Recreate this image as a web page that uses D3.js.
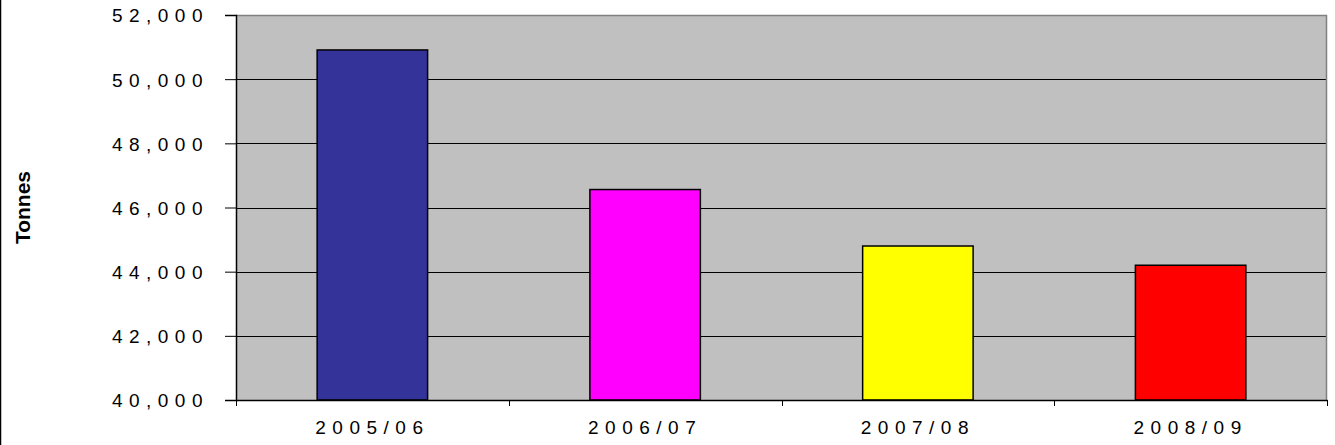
<!DOCTYPE html>
<html>
<head>
<meta charset="utf-8">
<script src="https://cdn.jsdelivr.net/npm/d3@7"></script>
<style>
  body { margin: 0; background: #fff; }
  svg text { font-family: "Liberation Sans", Arial, sans-serif; fill: #000; }
</style>
</head>
<body>
<div id="chart"></div>
<script>
var years = ["2005/06", "2006/07", "2007/08", "2008/09"];
var tonnes = [50910, 46560, 44800, 44200];
var barColors = ["#333399", "#FF00FF", "#FFFF00", "#FF0000"];
var yTicks = [40000, 42000, 44000, 46000, 48000, 50000, 52000];

var cfg = { w: 1335, h: 445, mTop: 15, mRight: 8, mBottom: 45, mLeft: 236 };
var width = cfg.w - cfg.mLeft - cfg.mRight,
    height = cfg.h - cfg.mTop - cfg.mBottom;

var svg = d3.select("#chart").append("svg")
    .attr("width", cfg.w)
    .attr("height", cfg.h);

// outer frame, only the left edge shows
svg.append("line")
    .attr("x1", 0.5).attr("x2", 0.5)
    .attr("y1", 0).attr("y2", cfg.h)
    .attr("stroke", "#000").attr("stroke-width", 1.5);

var g = svg.append("g")
    .attr("transform", "translate(" + cfg.mLeft + "," + cfg.mTop + ")");

var x = d3.scaleBand().domain(years).range([0, width]).padding(0);
var y = d3.scaleLinear().domain([40000, 52000]).range([height, 0]);

g.append("rect")
    .attr("width", width).attr("height", height)
    .attr("fill", "#C0C0C0");

// gridlines
g.selectAll(".grid")
    .data(yTicks.slice(1, -1))
    .enter().append("line")
    .attr("x1", 0).attr("x2", width)
    .attr("y1", function(d) { return Math.round(y(d)) + 0.5; })
    .attr("y2", function(d) { return Math.round(y(d)) + 0.5; })
    .attr("stroke", "#000");

// top / right border
g.append("path")
    .attr("d", "M0,0.5H" + (width - 0.5) + "V" + height)
    .attr("fill", "none").attr("stroke", "#808080").attr("stroke-width", 1.5);

// bars
var barW = x.bandwidth() * 0.405;
g.selectAll(".bar")
    .data(tonnes)
    .enter().append("rect")
    .attr("x", function(d, i) { return x(years[i]) + (x.bandwidth() - barW) / 2; })
    .attr("y", function(d) { return y(d); })
    .attr("width", barW)
    .attr("height", function(d) { return height - y(d); })
    .attr("fill", function(d, i) { return barColors[i]; })
    .attr("stroke", "#000").attr("stroke-width", 1.5);

function lbl(t) {
    t.attr("font-family", null).attr("font-size", null)
        .style("font-size", "19px")
        .style("letter-spacing", "6.5px")
        .style("font-family", "'Liberation Sans', Arial, sans-serif");
}

// y axis
var yAxis = d3.axisLeft(y).tickValues(yTicks).tickSize(11).tickPadding(0)
    .tickFormat(d3.format(","));
g.append("g").call(function(a) {
    a.call(yAxis);
    a.select(".domain").attr("stroke", "#000").attr("stroke-width", 1.5);
    a.selectAll(".tick line").attr("stroke", "#000");
    a.selectAll(".tick text")
        .attr("x", -27)
        .attr("dy", "0.36em")
        .call(lbl);
});

// x axis
var xAxis = d3.axisBottom(x).tickSize(0).tickPadding(0);
g.append("g").attr("transform", "translate(0," + height + ")").call(function(a) {
    a.call(xAxis);
    a.select(".domain").attr("stroke", "#000").attr("stroke-width", 1.5);
    a.selectAll(".tick text")
        .attr("x", 0)
        .attr("y", 34).attr("dy", 0)
        .call(lbl);
});
// band boundary ticks
g.selectAll(".xtick")
    .data(years.concat([null]))
    .enter().append("line")
    .attr("x1", function(d, i) { return Math.round(i * x.bandwidth()) + 0.5; })
    .attr("x2", function(d, i) { return Math.round(i * x.bandwidth()) + 0.5; })
    .attr("y1", height).attr("y2", height + 6)
    .attr("stroke", "#000");

svg.append("text")
    .attr("transform", "translate(30," + (cfg.mTop + height / 2) + ") rotate(-90)")
    .attr("text-anchor", "middle")
    .attr("font-weight", "bold")
    .attr("font-size", "21px")
    .text("Tonnes");
</script>
</body>
</html>
